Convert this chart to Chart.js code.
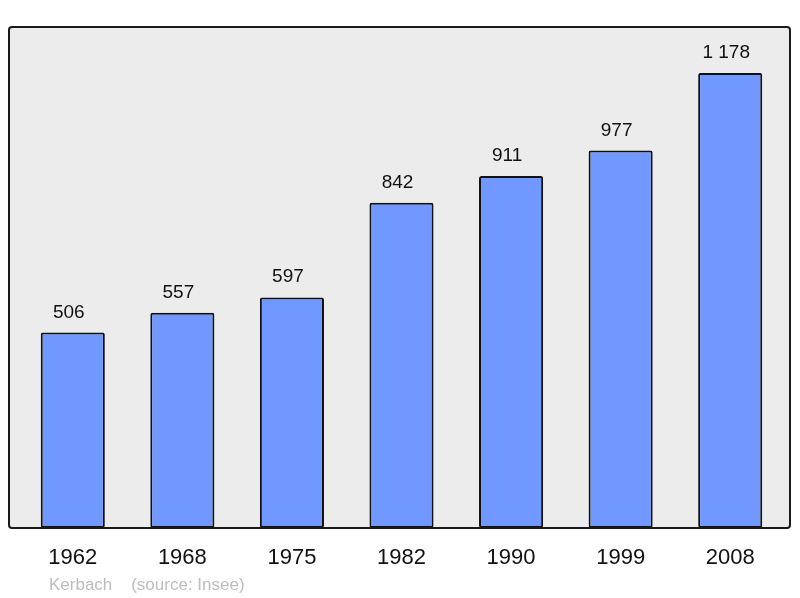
<!DOCTYPE html>
<html>
<head>
<meta charset="utf-8">
<script src="https://cdn.jsdelivr.net/npm/chart.js@4/dist/chart.umd.min.js"></script>
<style>
  body { margin: 0; background: #fff; }
  .wrap { position: relative; width: 800px; height: 598px; }
  .footer {
    position: absolute; left: 49px; top: 575px;
    font: 17px "Liberation Sans", Arial, sans-serif; color: #bdbdbd;
    white-space: pre;
  }
</style>
</head>
<body>
<div class="wrap">
  <canvas id="chart" width="800" height="598"></canvas>
  <div class="footer">Kerbach    (source: Insee)</div>
</div>
<script>
// data
const years = ['1962', '1968', '1975', '1982', '1990', '1999', '2008']
const population = [506, 557, 597, 842, 911, 977, 1178]

const fmt = v => String(v).replace(/\B(?=(\d{3})+(?!\d))/g, ' ')

// grey frame behind the bars, black outline on top
const frame_plugin = {
    id: 'frame',
    beforeDatasetsDraw(chart) {
        const {ctx, chartArea} = chart
        ctx.save()
        ctx.beginPath()
        ctx.roundRect(9, chartArea.top, 781, chartArea.bottom - chartArea.top, 3)
        ctx.fillStyle = '#ececec'
        ctx.fill()
        ctx.restore()
    },
    afterDatasetsDraw(chart) {
        const {ctx, chartArea} = chart
        ctx.save()
        ctx.beginPath()
        ctx.roundRect(9, chartArea.top, 781, chartArea.bottom - chartArea.top, 3)
        ctx.lineWidth = 2
        ctx.strokeStyle = '#1a1a1a'
        ctx.stroke()
        // value labels
        ctx.font = '19px "Liberation Sans", Arial, sans-serif'
        ctx.fillStyle = '#111'
        ctx.textAlign = 'center'
        ctx.textBaseline = 'alphabetic'
        chart.getDatasetMeta(0).data.forEach((bar, i) => {
            ctx.fillText(fmt(population[i]), bar.x - 4, bar.y - 15)
        })
        ctx.restore()
    }
}

new Chart(document.getElementById('chart'), {
    type: 'bar',
    data: {
        labels: years,
        datasets: [{
            data: population,
            backgroundColor: '#7098ff',
            borderColor: '#111',
            borderWidth: 2,
            borderSkipped: false,
            borderRadius: 2,
            barPercentage: 0.585,
            categoryPercentage: 1,
        }]
    },
    options: {
        responsive: false,
        animation: false,
        layout: { padding: { left: 18, right: 15, top: 27, bottom: 0 } },
        plugins: { legend: { display: false }, tooltip: { enabled: false } },
        scales: {
            x: {
                grid: { display: false },
                border: { display: false },
                ticks: {
                    color: '#111',
                    padding: 9,
                    font: { family: '"Liberation Sans", Arial, sans-serif', size: 22 },
                },
                afterFit: s => { s.height = 70 },
            },
            y: { display: false, min: 0, max: 1297 },
        }
    },
    plugins: [frame_plugin]
})
</script>
</body>
</html>
